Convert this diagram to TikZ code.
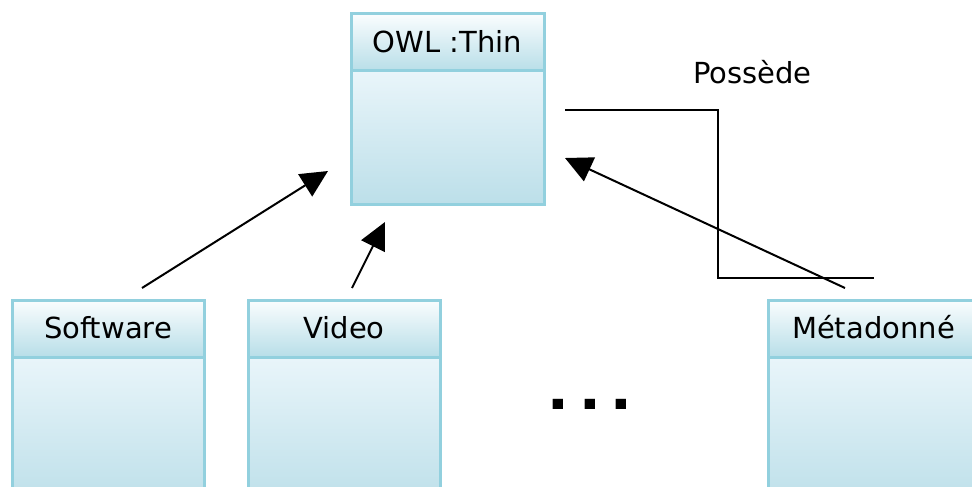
\documentclass[tikz,border=0pt]{standalone}
\usepackage{fontspec}
\setmainfont{DejaVu Sans}
\usepackage{tikz}
\usetikzlibrary{positioning,arrows.meta}

\definecolor{umlborder}{HTML}{92D0DE}
\definecolor{headtop}{HTML}{FAFDFE}
\definecolor{headbot}{HTML}{B8DEE8}
\definecolor{bodytop}{HTML}{E9F5FA}
\definecolor{bodybot}{HTML}{BCDFE9}

\tikzset{
  classhead/.style={draw=umlborder, line width=3pt, top color=headtop, bottom color=headbot,
    minimum height=57pt, inner sep=0pt, outer sep=0pt, text height=20pt, text depth=0pt,
    font=\fontsize{29}{35}\selectfont},
  classbody/.style={draw=umlborder, line width=3pt, top color=bodytop, bottom color=bodybot,
    inner sep=0pt, outer sep=0pt},
  inherit/.style={line width=2pt, -{Triangle[length=27pt,width=26pt]}},
}

\begin{document}
\begin{tikzpicture}[x=1pt, y=-1pt]
    \useasboundingbox (0,0) rectangle (972,487);
    \clip (0,0) rectangle (972,487);
    % classes
    \node [classhead, minimum width=193pt] (owl) at (447.5,42.5) {OWL :Thin};
    \node [classbody, minimum width=193pt, minimum height=133pt, below=0pt of owl] (owlbody) {};
    \node [classhead, minimum width=192pt] (soft) at (108,328.5) {Software};
    \node [classbody, minimum width=192pt, minimum height=150pt, below=0pt of soft] (softbody) {};
    \node [classhead, minimum width=192pt] (video) at (344,328.5) {Video};
    \node [classbody, minimum width=192pt, minimum height=150pt, below=0pt of video] (videobody) {};
    \node [classhead, minimum width=211pt] (meta) at (873.5,328.5) {Métadonné};
    \node [classbody, minimum width=211pt, minimum height=150pt, below=0pt of meta] (metabody) {};
    \node [anchor=base west, inner sep=0pt, transform shape, yscale=0.82,
      font=\fontsize{100}{100}\selectfont] (dots) at (542,409) {...};
    % association
    \node [anchor=base, inner sep=0pt, font=\fontsize{29}{35}\selectfont] (assoc) at (752.5,84) {Possède};
    \coordinate (assoc-a) at (565,110);
    \coordinate (assoc-bend) at (718,278);
    \coordinate (assoc-b) at (874,278);
    \draw [line width=2.5pt] (assoc-a) -| (assoc-bend) -- (assoc-b);
    % generalisations
    \coordinate (soft-out) at (142,288);
    \coordinate (soft-in) at (328,171);
    \coordinate (video-out) at (352,288);
    \coordinate (video-in) at (385,222);
    \coordinate (meta-out) at (845,288);
    \coordinate (meta-in) at (565,158);
    \draw [inherit] (soft-out) -- (soft-in);
    \draw [inherit] (video-out) -- (video-in);
    \draw [inherit] (meta-out) -- (meta-in);
  \end{tikzpicture}
\end{document}
